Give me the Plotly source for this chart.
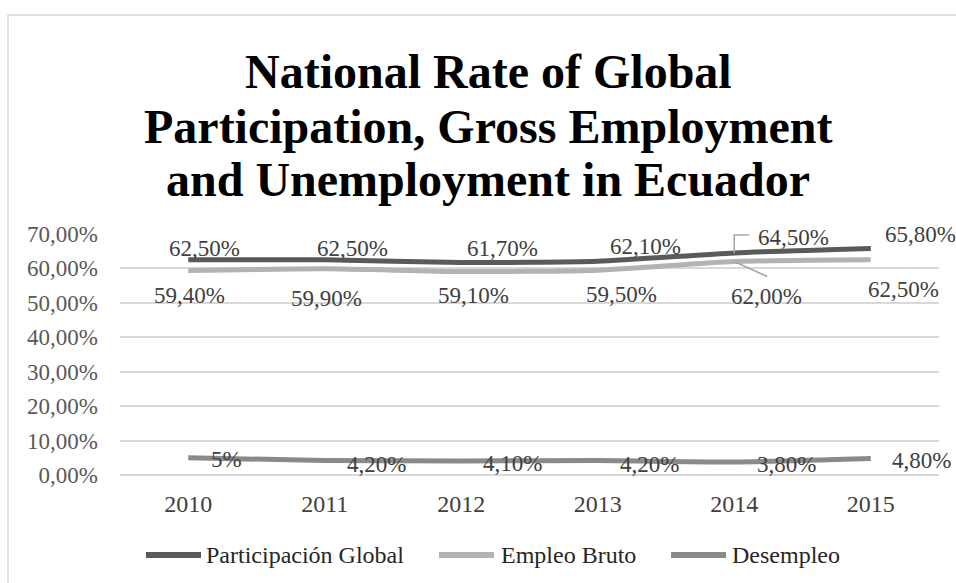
import plotly.graph_objects as go

# ---- data -------------------------------------------------------------
years = ["2010", "2011", "2012", "2013", "2014", "2015"]
participacion_global = [62.5, 62.5, 61.7, 62.1, 64.5, 65.8]
empleo_bruto = [59.4, 59.9, 59.1, 59.5, 62.0, 62.5]
desempleo = [5.0, 4.2, 4.1, 4.2, 3.8, 4.8]
desempleo_labels = ["5%", "4,20%", "4,10%", "4,20%", "3,80%", "4,80%"]

y_ticks = [0, 10, 20, 30, 40, 50, 60, 70]
y_tick_labels = ["0,00%", "10,00%", "20,00%", "30,00%",
                 "40,00%", "50,00%", "60,00%", "70,00%"]

series_names = ["Participación Global", "Empleo Bruto", "Desempleo"]
title_lines = ["National Rate of Global",
               "Participation, Gross Employment",
               "and Unemployment in Ecuador"]


def pct(v):
    return f"{v:.2f}".replace(".", ",") + "%"


# ---- style ------------------------------------------------------------
FONT = "Liberation Serif, Times New Roman, serif"
COL_PART = "#5a5a5a"
COL_EMP = "#b3b3b3"
COL_DES = "#8a8a8a"
GRID = "#d9d9d9"
LABEL_COL = "#404040"
TICK_COL = "#595959"

W, H = 956, 583
L, R, T, B = 120, 939, 234, 475   # plot area in pixels


def px_x(px):
    return (px - L) / (R - L)


def px_y(py):
    return (B - py) / (B - T)


# per-label pixel offsets (right, up) from each point
part_off = [(16, 11), (28, 11), (41, 14), (48, 15), (59, 15), (50, 14)]
emp_off = [(1, -25), (2, -30), (12, -24), (24, -24), (32, -35), (33, -30)]
des_off = [(38, -2), (52, -4), (51, -3), (52, -4), (52, -3), (51, -2)]

fig = go.Figure()

for name, vals, col in [(series_names[0], participacion_global, COL_PART),
                        (series_names[1], empleo_bruto, COL_EMP),
                        (series_names[2], desempleo, COL_DES)]:
    fig.add_trace(go.Scatter(
        x=years, y=vals, name=name, mode="lines",
        line=dict(color=col, width=5, shape="spline", smoothing=0.6),
        showlegend=False, hoverinfo="skip",
    ))

annotations = []


def data_label(idx, y, text, off):
    # idx is the category position on the x axis
    annotations.append(dict(
        x=idx, y=y, xref="x", yref="y", text=text, showarrow=False,
        xanchor="center", yanchor="middle",
        xshift=off[0], yshift=off[1],
        font=dict(family=FONT, size=23, color=LABEL_COL),
    ))


for i in range(len(years)):
    data_label(i, participacion_global[i], pct(participacion_global[i]), part_off[i])
    data_label(i, empleo_bruto[i], pct(empleo_bruto[i]), emp_off[i])
    data_label(i, desempleo[i], desempleo_labels[i], des_off[i])

# title, three centred lines
for line, cy in zip(title_lines, [71, 126, 180]):
    annotations.append(dict(
        x=px_x(488), y=px_y(cy), xref="paper", yref="paper",
        text=f"<b>{line}</b>", showarrow=False,
        xanchor="center", yanchor="middle",
        font=dict(family=FONT, size=48, color="#000000"),
    ))

shapes = []

# leader lines for the 2014 labels
shapes.append(dict(
    type="path", xref="x", yref="y", xsizemode="pixel", ysizemode="pixel",
    xanchor=4, yanchor=participacion_global[4],
    path="M0,0 L0,18 L15,18",
    line=dict(color="#a6a6a6", width=1.5),
))
shapes.append(dict(
    type="path", xref="x", yref="y", xsizemode="pixel", ysizemode="pixel",
    xanchor=4, yanchor=empleo_bruto[4],
    path="M0,0 L33,-15",
    line=dict(color="#a6a6a6", width=1.5),
))

# legend drawn by hand
legend_items = [(146, 201, 204, COL_PART), (439, 494, 499, COL_EMP), (671, 726, 730, COL_DES)]
for (x0, x1, tx, col), name in zip(legend_items, series_names):
    shapes.append(dict(
        type="line", xref="paper", yref="paper",
        x0=px_x(x0), x1=px_x(x1), y0=px_y(555), y1=px_y(555),
        line=dict(color=col, width=6),
    ))
    annotations.append(dict(
        x=px_x(tx), y=px_y(555), xref="paper", yref="paper",
        text=name, showarrow=False, xanchor="left", yanchor="middle",
        font=dict(family=FONT, size=24, color="#262626"),
    ))

# chart frame
shapes.append(dict(
    type="rect", xref="paper", yref="paper",
    x0=px_x(8), x1=px_x(W + 10), y0=px_y(15), y1=px_y(H + 10),
    line=dict(color=GRID, width=1.5), fillcolor="rgba(0,0,0,0)", layer="below",
))

fig.update_layout(
    width=W, height=H,
    margin=dict(l=L, r=W - R, t=T, b=H - B, pad=0),
    paper_bgcolor="white", plot_bgcolor="white",
    showlegend=False,
    annotations=annotations, shapes=shapes,
    xaxis=dict(
        type="category", range=[-0.5, 5.5], showgrid=False, showline=False,
        zeroline=False, ticks="", ticklabelstandoff=12,
        tickfont=dict(family=FONT, size=24, color=LABEL_COL),
    ),
    yaxis=dict(
        range=[0, 70], tickvals=y_ticks, ticktext=y_tick_labels,
        showgrid=True, gridcolor=GRID, gridwidth=1.5,
        zeroline=True, zerolinecolor=GRID, zerolinewidth=1.5,
        showline=False, ticks="", ticklabelstandoff=21,
        tickfont=dict(family=FONT, size=23, color=TICK_COL),
    ),
)

fig.write_html("out.html")
